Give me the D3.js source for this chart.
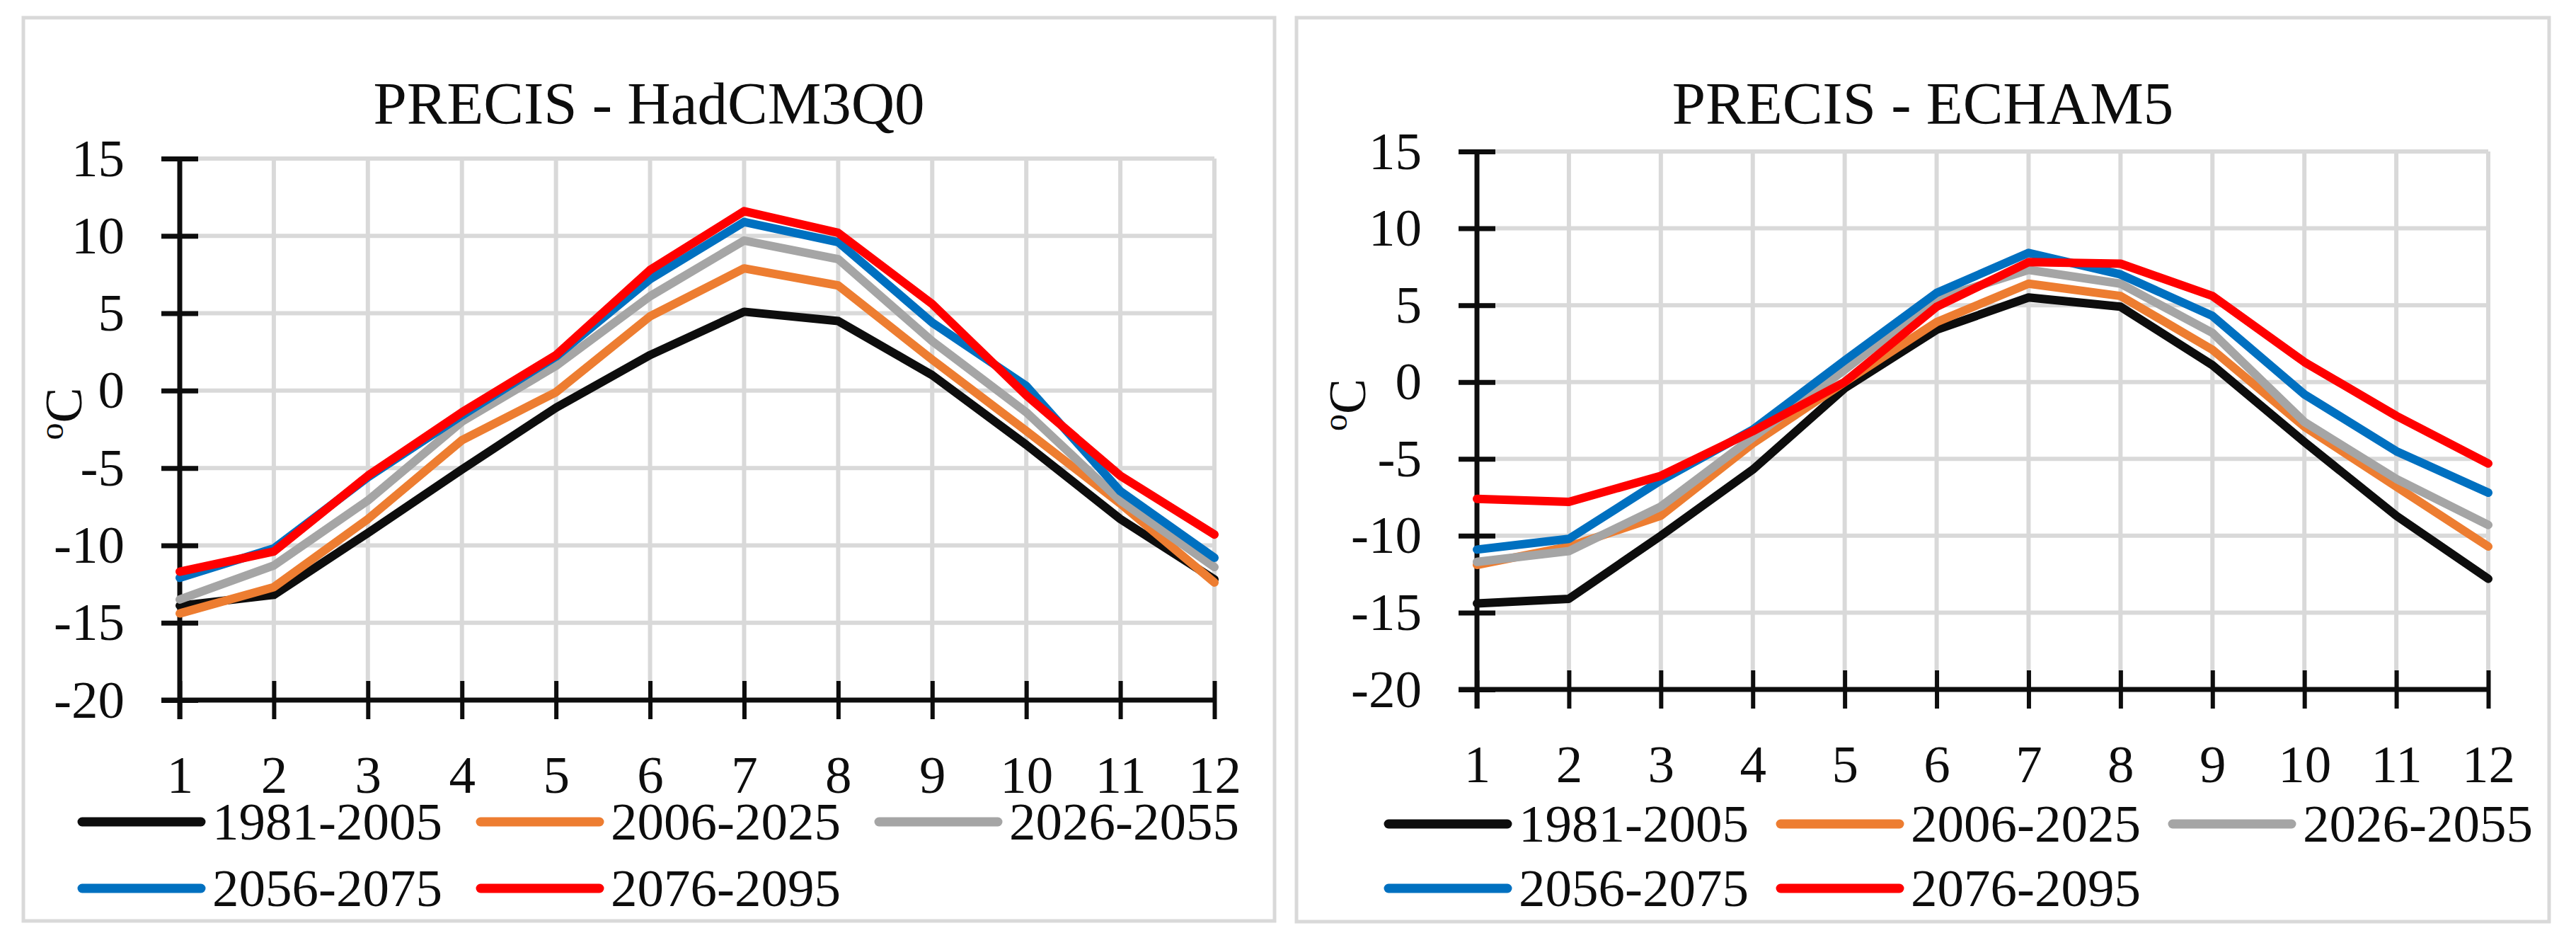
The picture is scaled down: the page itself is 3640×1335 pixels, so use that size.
<!DOCTYPE html>
<html>
<head>
<meta charset="utf-8">
<script src="https://cdn.jsdelivr.net/npm/d3@7"></script>
<style>
  body { margin: 0; background: #fff; }
  text { font-family: "Liberation Serif", "Times New Roman", serif; fill: #0d0d0d; }
</style>
</head>
<body>
<div id="chart"></div>
<script>
// months on the x axis and y tick values
var months = [1, 2, 3, 4, 5, 6, 7, 8, 9, 10, 11, 12];
var yTicks = [-20, -15, -10, -5, 0, 5, 10, 15];
var periods = ["1981-2005", "2006-2025", "2026-2055", "2056-2075", "2076-2095"];
var colors = ["#0d0d0d", "#ed7d31", "#a5a5a5", "#0070c0", "#ff0000"];

// PRECIS - HadCM3Q0 (monthly mean temperature, oC)
var had_1981_2005 = [-13.9, -13.2, -9.2, -5.1, -1.1, 2.3, 5.1, 4.5, 1.0, -3.5, -8.3, -12.2];
var had_2006_2025 = [-14.4, -12.7, -8.3, -3.2, -0.1, 4.8, 7.9, 6.8, 2.0, -2.6, -7.3, -12.4];
var had_2026_2055 = [-13.5, -11.3, -7.1, -2.0, 1.6, 6.1, 9.7, 8.5, 3.2, -1.4, -7.1, -11.4];
var had_2056_2075 = [-12.1, -10.2, -5.6, -1.6, 2.2, 7.2, 10.9, 9.6, 4.4, 0.3, -6.5, -10.8];
var had_2076_2095 = [-11.7, -10.4, -5.5, -1.4, 2.3, 7.8, 11.6, 10.2, 5.6, -0.3, -5.5, -9.3];

// PRECIS - ECHAM5
var ech_1981_2005 = [-14.4, -14.1, -10.0, -5.7, -0.4, 3.4, 5.5, 4.9, 1.1, -3.9, -8.7, -12.8];
var ech_2006_2025 = [-11.9, -10.7, -8.7, -4.0, 0.0, 3.9, 6.4, 5.6, 2.1, -2.9, -6.8, -10.7];
var ech_2026_2055 = [-11.7, -11.0, -8.1, -3.6, 0.8, 5.4, 7.3, 6.4, 3.2, -2.6, -6.3, -9.3];
var ech_2056_2075 = [-10.9, -10.2, -6.4, -3.1, 1.4, 5.8, 8.4, 7.0, 4.3, -0.8, -4.5, -7.2];
var ech_2076_2095 = [-7.6, -7.8, -6.1, -3.2, 0.0, 4.9, 7.8, 7.7, 5.6, 1.3, -2.2, -5.3];

var svg = d3.select("#chart").append("svg")
  .attr("width", 3640)
  .attr("height", 1335);

function drawPanel(p) {
  var g = svg.append("g");

  // panel frame
  g.append("rect")
    .attr("x", p.box[0]).attr("y", p.box[1])
    .attr("width", p.box[2] - p.box[0]).attr("height", p.box[3] - p.box[1])
    .attr("fill", "#fff")
    .attr("stroke", "#d9d9d9")
    .attr("stroke-width", 5);

  var x = d3.scaleLinear().domain([1, 12]).range([p.left, p.right]);
  var y = d3.scaleLinear().domain([-20, 15]).range([p.bottom, p.top]);

  // title
  g.append("text")
    .attr("x", (p.box[0] + p.box[2]) / 2)
    .attr("y", 175)
    .attr("text-anchor", "middle")
    .style("font-size", "85px")
    .text(p.title);

  // gridlines
  g.append("g").selectAll("line")
    .data(yTicks.filter(d => d > -20))
    .enter().append("line")
    .attr("x1", p.left).attr("x2", p.right)
    .attr("y1", d => y(d)).attr("y2", d => y(d))
    .attr("stroke", "#d9d9d9").attr("stroke-width", 6);

  g.append("g").selectAll("line")
    .data(months.filter(d => d > 1))
    .enter().append("line")
    .attr("x1", d => x(d)).attr("x2", d => x(d))
    .attr("y1", y(15)).attr("y2", y(-20))
    .attr("stroke", "#d9d9d9").attr("stroke-width", 6);

  // y axis: ticks cross the axis line
  var yAxis = g.append("g")
    .attr("transform", `translate(${p.left + 26}, 0)`)
    .call(d3.axisLeft(y).tickValues(yTicks).tickSize(52).tickPadding(52)
      .tickFormat(d => String(d)));
  yAxis.select(".domain").remove();
  yAxis.selectAll("line").attr("stroke", "#0d0d0d").attr("stroke-width", 7);
  yAxis.selectAll("text").style("font-size", "75px").attr("fill", "#0d0d0d")
    .attr("font-family", null);

  g.append("line")
    .attr("x1", p.left).attr("x2", p.left)
    .attr("y1", y(15)).attr("y2", y(-20) + 27)
    .attr("stroke", "#0d0d0d").attr("stroke-width", 7);

  // x axis
  var xAxis = g.append("g")
    .attr("transform", `translate(0, ${p.bottom - 27})`)
    .call(d3.axisBottom(x).tickValues(months).tickSize(54).tickPadding(p.xPad));
  xAxis.select(".domain").remove();
  xAxis.selectAll("line").attr("stroke", "#0d0d0d").attr("stroke-width", 6);
  xAxis.selectAll("text").style("font-size", "75px").attr("fill", "#0d0d0d")
    .attr("font-family", null);

  g.append("line")
    .attr("x1", p.left - 26).attr("x2", p.right)
    .attr("y1", p.bottom).attr("y2", p.bottom)
    .attr("stroke", "#0d0d0d").attr("stroke-width", 7);

  // y axis title
  var yt = g.append("text")
    .attr("transform", `translate(${p.yTitleX}, ${(p.top + p.bottom) / 2 - 22}) rotate(-90)`)
    .attr("text-anchor", "middle")
    .style("font-size", "75px");
  yt.append("tspan").style("font-size", "48px").attr("dy", "-0.55em").text("o");
  yt.append("tspan").attr("dy", "0.35em").text("C");

  // series lines
  var line = d3.line()
    .x((d, i) => x(months[i]))
    .y(d => y(d));

  g.append("g").selectAll("path")
    .data(p.series)
    .enter().append("path")
    .attr("d", d => line(d))
    .attr("fill", "none")
    .attr("stroke", (d, i) => colors[i])
    .attr("stroke-width", 12)
    .attr("stroke-linejoin", "round")
    .attr("stroke-linecap", "round");

  // legend
  var items = g.append("g").selectAll("g")
    .data(periods)
    .enter().append("g")
    .attr("transform", (d, i) =>
      `translate(${p.legX + (i % 3) * p.legStep}, ${i < 3 ? p.legY1 : p.legY2})`);

  items.append("line")
    .attr("x1", 0).attr("x2", 168)
    .attr("stroke", (d, i) => colors[i])
    .attr("stroke-width", 13)
    .attr("stroke-linecap", "round");

  items.append("text")
    .attr("x", 184)
    .attr("dy", "0.33em")
    .style("font-size", "75px")
    .text(d => d);
}

drawPanel({
  title: "PRECIS - HadCM3Q0",
  box: [33, 25, 1801, 1301],
  left: 254, right: 1716, top: 224, bottom: 989,
  xPad: 51, yTitleX: 115,
  legX: 116, legStep: 563, legY1: 1161, legY2: 1255,
  series: [had_1981_2005, had_2006_2025, had_2026_2055, had_2056_2075, had_2076_2095]
});

drawPanel({
  title: "PRECIS - ECHAM5",
  box: [1832, 25, 3602, 1302],
  left: 2087, right: 3516, top: 214, bottom: 974,
  xPad: 51, yTitleX: 1929,
  legX: 1962, legStep: 554, legY1: 1164, legY2: 1255,
  series: [ech_1981_2005, ech_2006_2025, ech_2026_2055, ech_2056_2075, ech_2076_2095]
});
</script>
</body>
</html>
